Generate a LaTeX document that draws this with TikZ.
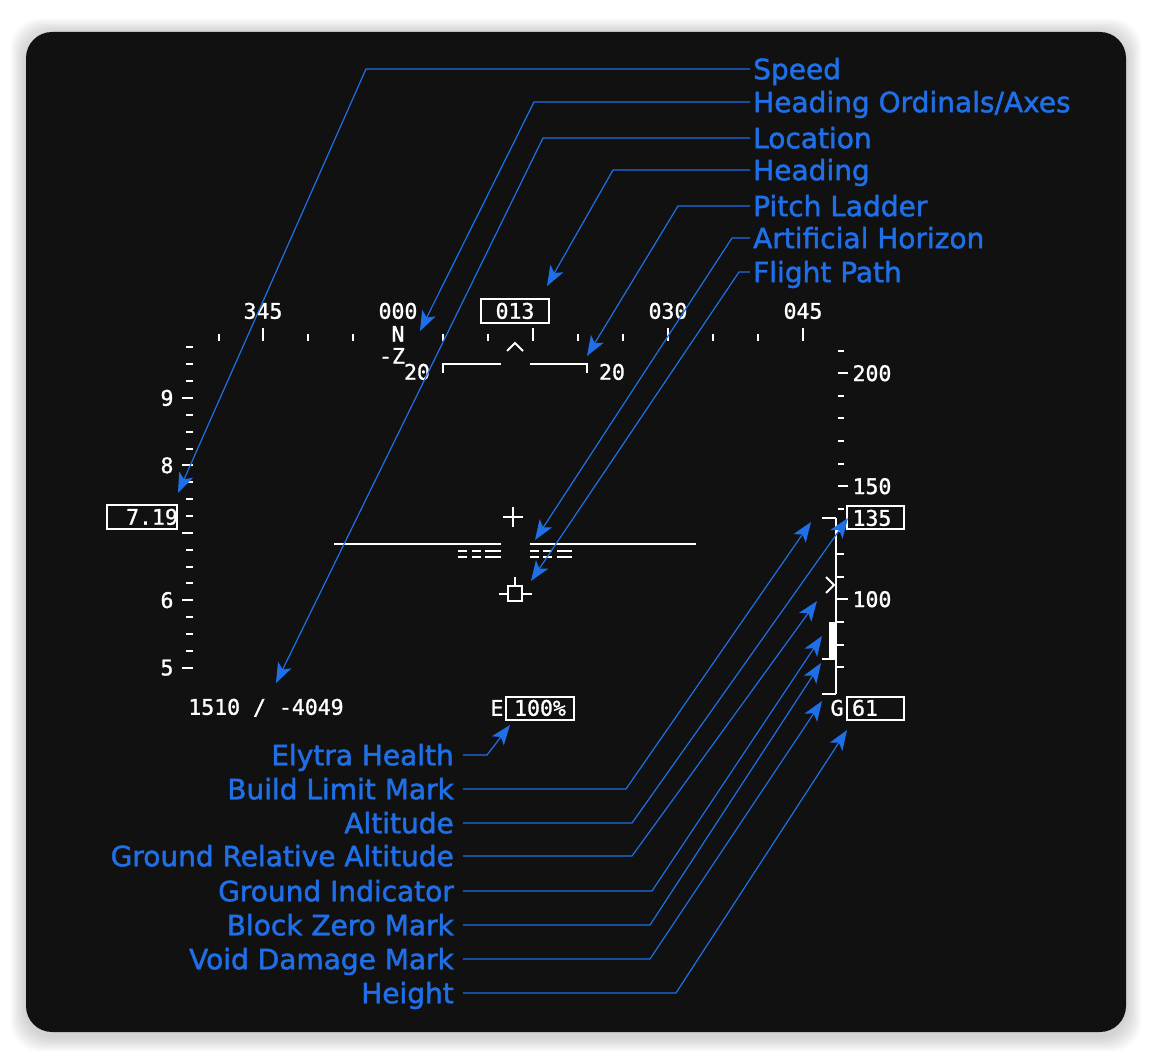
\documentclass[tikz,border=0pt]{standalone}
\usepackage{fontspec}
\setmainfont{DejaVu Sans}
\newfontfamily\lblfont{DejaVu Sans}[RawFeature={embolden=1.6}]
\newfontfamily\hudfont{DejaVu Sans Mono}[RawFeature={embolden=1.2}]
\usetikzlibrary{arrows.meta}
\definecolor{cardbg}{HTML}{111111}
\definecolor{lblue}{HTML}{1F6FE8}
\begin{document}
\begin{tikzpicture}[x=1pt,y=-1pt,
  lbl/.style={text=lblue, font=\lblfont\fontsize{28}{32}\selectfont, inner ysep=0pt, text height=20.5pt, text depth=0pt},
  lblr/.style={lbl, anchor=west, inner xsep=3pt},
  lbll/.style={lbl, anchor=east, inner xsep=9pt},
  conn/.style={draw=lblue, line width=1.2pt, -{Stealth[length=20pt,width=15pt,inset=5pt]}},
  hud/.style={draw=white, line width=2pt},
  hudtxt/.style={text=white, font=\hudfont\fontsize{21.5}{24}\selectfont, inner sep=0pt, text height=15.5pt, text depth=0pt},
  hudbox/.style={draw=white, line width=2pt, inner sep=0pt},
]
\useasboundingbox (0,0) rectangle (1152,1064);
% shadow
\foreach \i in {1,...,12}
  \fill[black, opacity=0.016, rounded corners=30pt] ({26-\i*1.3},{34-\i*1.3}) rectangle ({1126+\i*1.3},{1036+\i*1.3});
% card
\fill[cardbg, rounded corners=26pt] (26,32) rectangle (1126,1032);

% ---------- heading tape ----------
\foreach \x in {219,308,353,443,488,578,623,713,758} \draw[hud] (\x,334) -- (\x,341);
\foreach \x in {263,533,668,803} \draw[hud] (\x,328) -- (\x,341);
\node[hudtxt] (h345) at (263,311) {345};
\node[hudtxt] (h000) at (398,311) {000};
\node[hudtxt] (h030) at (668,311) {030};
\node[hudtxt] (h045) at (803,311) {045};
\node[hudbox, minimum width=68pt, minimum height=24pt] (hdgbox) at (515,311) {};
\node[hudtxt] (hdg) at (515,311) {013};
\node[hudtxt] (north) at (398,334) {N};
\node[hudtxt] (axis) at (392,356) {-Z};

% ---------- pitch ladder ----------
\node[hudtxt] (p20l) at (417,372) {20};
\node[hudtxt] (p20r) at (612,372) {20};
\draw[hud] (443,373) -- (443,364) -- (501,364);
\draw[hud] (530,364) -- (587,364) -- (587,373);
\draw[hud] (507,351) -- (515,343) -- (523,351);

% ---------- speed tape ----------
\foreach \k in {-3,-2,-1,1,2,3,5,6,7,9,10,11,13,14,15}
  \draw[hud] (186,{398+\k*16.85}) -- (193,{398+\k*16.85});
\foreach \k in {0,4,8,12,16}
  \draw[hud] (182,{398+\k*16.85}) -- (193,{398+\k*16.85});
\node[hudtxt] (s9) at (167,398) {9};
\node[hudtxt] (s8) at (167,465.4) {8};
\node[hudtxt] (s6) at (167,600.2) {6};
\node[hudtxt] (s5) at (167,667.6) {5};
\node[hudbox, minimum width=70pt, minimum height=24pt] (spdbox) at (142,517) {};
\node[hudtxt] (spd) at (152,517) {7.19};

% ---------- altitude tape ----------
\foreach \v in {210,190,180,170,160,140}
  \draw[hud] (838,{373.3+(200-\v)*2.26}) -- (844,{373.3+(200-\v)*2.26});
\foreach \v in {200,150}
  \draw[hud] (838,{373.3+(200-\v)*2.26}) -- (848,{373.3+(200-\v)*2.26});
\draw[hud] (836,518) -- (836,694);
\foreach \v in {130,120,110,90,80,70}
  \draw[hud] (836,{373.3+(200-\v)*2.26}) -- (844,{373.3+(200-\v)*2.26});
\draw[hud] (836,599.3) -- (848,599.3);
\node[hudtxt] (a200) at (872,373.3) {200};
\node[hudtxt] (a150) at (872,486.3) {150};
\node[hudtxt] (a100) at (872,599.3) {100};
\draw[hud] (822,518) -- (836,518);
\draw[hud] (822,694) -- (836,694);
\draw[hud] (822,659) -- (836,659);
\fill[white] (829,622) rectangle (837,658);
\draw[hud] (826,577) -- (834,585) -- (826,593);
\node[hudbox, minimum width=57pt, minimum height=23pt] (altbox) at (875.5,517.5) {};
\node[hudtxt] (alt) at (872,518) {135};
\node[hudtxt] (gch) at (837,708) {G};
\node[hudbox, minimum width=57pt, minimum height=23pt] (hgtbox) at (875.5,708.5) {};
\node[hudtxt] (hgt) at (865,708) {61};

% ---------- centre ----------
\draw[hud] (503,517) -- (523,517);
\draw[hud] (513,507) -- (513,527);
\draw[hud] (334,544) -- (501,544);
\draw[hud] (530,544) -- (696,544);
\foreach \y in {551,557} {
  \draw[hud] (458,\y) -- (467,\y);
  \draw[hud] (472,\y) -- (481,\y);
  \draw[hud] (485,\y) -- (501,\y);
  \draw[hud] (530,\y) -- (539,\y);
  \draw[hud] (543,\y) -- (552,\y);
  \draw[hud] (557,\y) -- (572,\y);
}
\draw[hud] (508,586) rectangle (522,601);
\draw[hud] (515,577) -- (515,586);
\draw[hud] (499,594) -- (508,594);
\draw[hud] (522,594) -- (532,594);

% ---------- bottom readouts ----------
\node[hudtxt] (locn) at (266,707) {1510 / -4049};
\node[hudtxt] (ech) at (497,708) {E};
\node[hudbox, minimum width=68pt, minimum height=23pt] (elybox) at (540,708.5) {};
\node[hudtxt] (ely) at (540,708) {100\%};

% ---------- labels ----------
\node[lblr] (lspeed)  at (750,69)  {Speed};
\node[lblr] (lhdgord) at (750,102) {Heading Ordinals/Axes};
\node[lblr] (lloc)    at (750,138) {Location};
\node[lblr] (lhdg)    at (750,170) {Heading};
\node[lblr] (lpitch)  at (750,206) {Pitch Ladder};
\node[lblr] (lhoriz)  at (750,238) {Artificial Horizon};
\node[lblr] (lfpath)  at (750,272) {Flight Path};

\node[lbll] (lelytra) at (463,755) {Elytra Health};
\node[lbll] (lbuild)  at (463,789) {Build Limit Mark};
\node[lbll] (lalt)    at (463,823) {Altitude};
\node[lbll] (lgra)    at (463,856) {Ground Relative Altitude};
\node[lbll] (lgind)   at (463,891) {Ground Indicator};
\node[lbll] (lbzero)  at (463,925) {Block Zero Mark};
\node[lbll] (lvoid)   at (463,959) {Void Damage Mark};
\node[lbll] (lheight) at (463,993) {Height};

% ---------- connector coordinates ----------
\coordinate (bspeed) at (366,69);   \coordinate (tspeed) at (178,493);
\coordinate (bhdgord) at (534,102); \coordinate (thdgord) at (420,331);
\coordinate (bloc) at (543,138);    \coordinate (tloc) at (276,683);
\coordinate (bhdg) at (613,170);    \coordinate (thdg) at (547,286);
\coordinate (bpitch) at (678,206);  \coordinate (tpitch) at (587,356);
\coordinate (bhoriz) at (732,238);  \coordinate (thoriz) at (535,540);
\coordinate (bfpath) at (739,272);  \coordinate (tfpath) at (531,581);

\coordinate (belytra) at (487,755); \coordinate (telytra) at (510,725);
\coordinate (bbuild) at (626,789);  \coordinate (tbuild) at (811,522);
\coordinate (balt) at (632,823);    \coordinate (talt) at (848,518);
\coordinate (bgra) at (632,856);    \coordinate (tgra) at (817,601);
\coordinate (bgind) at (652,891);   \coordinate (tgind) at (822,636);
\coordinate (bbzero) at (650,925);  \coordinate (tbzero) at (821,663);
\coordinate (bvoid) at (650,959);   \coordinate (tvoid) at (822,701);
\coordinate (bheight) at (676,993); \coordinate (theight) at (847,730);

% ---------- connectors ----------
\draw[conn] (lspeed.west) -- (bspeed) -- (tspeed);
\draw[conn] (lhdgord.west) -- (bhdgord) -- (thdgord);
\draw[conn] (lloc.west) -- (bloc) -- (tloc);
\draw[conn] (lhdg.west) -- (bhdg) -- (thdg);
\draw[conn] (lpitch.west) -- (bpitch) -- (tpitch);
\draw[conn] (lhoriz.west) -- (bhoriz) -- (thoriz);
\draw[conn] (lfpath.west) -- (bfpath) -- (tfpath);

\draw[conn] (lelytra.east) -- (belytra) -- (telytra);
\draw[conn] (lbuild.east) -- (bbuild) -- (tbuild);
\draw[conn] (lalt.east) -- (balt) -- (talt);
\draw[conn] (lgra.east) -- (bgra) -- (tgra);
\draw[conn] (lgind.east) -- (bgind) -- (tgind);
\draw[conn] (lbzero.east) -- (bbzero) -- (tbzero);
\draw[conn] (lvoid.east) -- (bvoid) -- (tvoid);
\draw[conn] (lheight.east) -- (bheight) -- (theight);
\end{tikzpicture}
\end{document}
